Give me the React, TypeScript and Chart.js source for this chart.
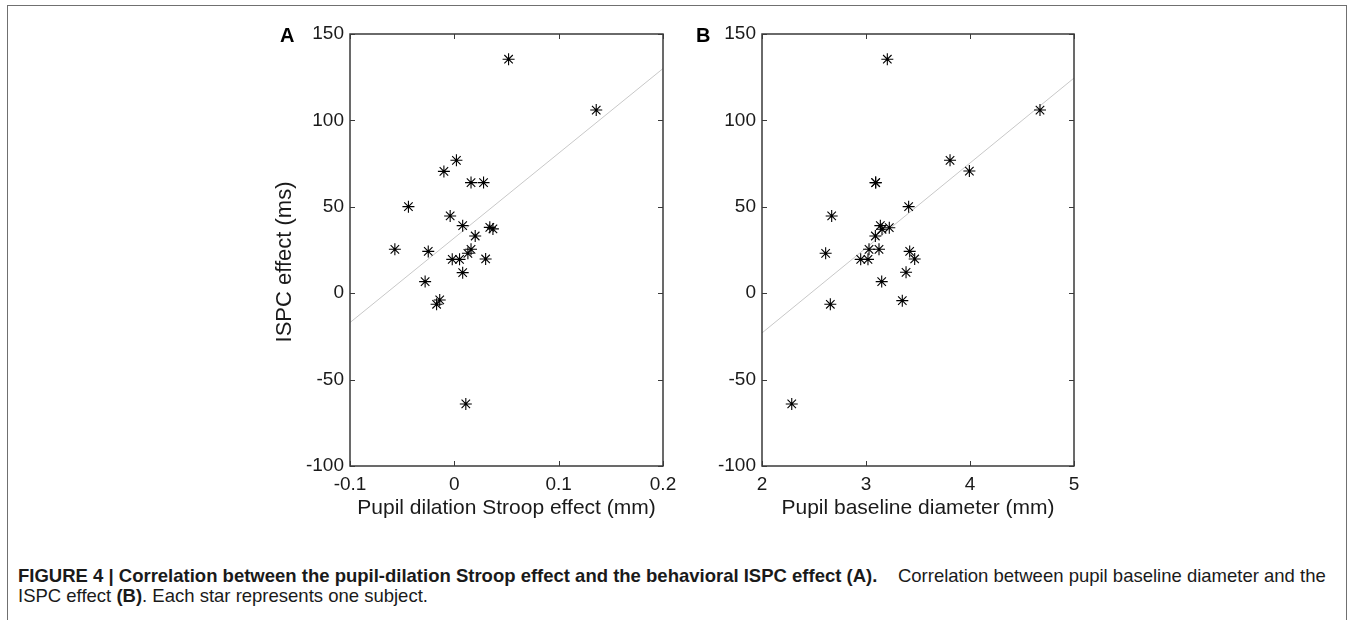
import React, { useEffect, useRef } from "react";
import { Chart, registerables } from "chart.js";

Chart.register(...registerables);

// ---- Data ----
// Panel A: pupil dilation Stroop effect (mm) vs ISPC effect (ms)
const stroopEffect = [0.052, 0.136, 0.002, -0.010, 0.016, 0.028, -0.044, -0.004, 0.008, 0.034, 0.037, 0.020, -0.057, -0.025, 0.016, 0.013, -0.002, 0.005, 0.030, 0.008, -0.028, -0.014, -0.017, 0.011];
const ispcA = [135.4, 106, 76.9, 70.5, 64, 64, 50.1, 44.7, 39.1, 38.1, 37.2, 33.1, 25.4, 24.2, 25.4, 23.1, 19.6, 19.6, 19.8, 11.9, 6.7, -3.9, -6.4, -64.1];
const fitAx = [-0.1, 0.2];
const fitAy = [-17, 130];

// Panel B: pupil baseline diameter (mm) vs ISPC effect (ms)
const baselineDiameter = [3.205, 4.673, 3.808, 3.994, 3.093, 3.093, 3.41, 2.67, 3.138, 3.224, 3.154, 3.09, 2.612, 3.029, 3.125, 3.42, 2.949, 3.019, 3.468, 3.385, 3.151, 3.349, 2.657, 2.286];
const ispcB = [135.4, 106, 76.9, 70.7, 64, 64, 50.1, 44.7, 39.1, 37.9, 37, 33.1, 23.1, 25.4, 25.4, 24.2, 19.6, 19.6, 19.8, 12.1, 6.7, -4.3, -6.4, -64.1];
const fitBx = [2, 5];
const fitBy = [-23, 124.5];

// Axis ranges / ticks
const yRange = [-100, 150];
const yStep = 50;
const xRangeA = [-0.1, 0.2];
const xStepA = 0.1;
const xRangeB = [2, 5];
const xStepB = 1;

const xTitleA = "Pupil dilation Stroop effect (mm)";
const xTitleB = "Pupil baseline diameter (mm)";
const yTitle = "ISPC effect (ms)";

const FONT = "'Liberation Sans', Arial, Helvetica, sans-serif";
const AXIS_COLOR = "#3a3a3a";
const TEXT_COLOR = "#1a1a1a";

const toPoints = (xs: number[], ys: number[]) => xs.map((x, i) => ({ x, y: ys[i] }));

const matlabAxesPlugin = {
  id: "matlabAxes",
  afterDraw(chart: any, _args: any, opts: any) {
    const { ctx, chartArea: a, scales } = chart;
    ctx.save();
    ctx.strokeStyle = AXIS_COLOR;
    ctx.lineWidth = 1.5;
    ctx.strokeRect(a.left, a.top, a.right - a.left, a.bottom - a.top);
    const tl = 5;
    ctx.beginPath();
    scales.x.ticks.forEach((t: any) => {
      const px = Math.round(scales.x.getPixelForValue(t.value)) + 0.5;
      ctx.moveTo(px, a.bottom);
      ctx.lineTo(px, a.bottom - tl);
      ctx.moveTo(px, a.top);
      ctx.lineTo(px, a.top + tl);
    });
    scales.y.ticks.forEach((t: any) => {
      const py = Math.round(scales.y.getPixelForValue(t.value)) + 0.5;
      ctx.moveTo(a.left, py);
      ctx.lineTo(a.left + tl, py);
      ctx.moveTo(a.right, py);
      ctx.lineTo(a.right - tl, py);
    });
    ctx.lineWidth = 1;
    ctx.stroke();
    if (opts && opts.yTitle) {
      ctx.fillStyle = TEXT_COLOR;
      ctx.font = `22px ${FONT}`;
      ctx.textAlign = "center";
      ctx.textBaseline = "middle";
      ctx.translate(opts.yTitleX, opts.yTitleY);
      ctx.rotate(-Math.PI / 2);
      ctx.fillText(opts.yTitle, 0, 0);
    }
    ctx.restore();
  },
};

type PanelProps = {
  xs: number[];
  ys: number[];
  fitX: number[];
  fitY: number[];
  xRange: number[];
  xStep: number;
  xTitle: string;
  yAxisWidth: number;
  padRight: number;
  width: number;
  height: number;
  left: number;
  showYTitle: boolean;
};

function Panel(p: PanelProps) {
  const ref = useRef<HTMLCanvasElement | null>(null);
  useEffect(() => {
    if (!ref.current) return;
    const chart = new Chart(ref.current, {
      type: "scatter",
      data: {
        datasets: [
          {
            type: "scatter",
            data: toPoints(p.xs, p.ys),
            pointStyle: "star",
            pointRadius: 6,
            pointBorderWidth: 1.1,
            pointBorderColor: "#000",
            pointBackgroundColor: "#000",
            order: 1,
          } as any,
          {
            type: "line",
            data: toPoints(p.fitX, p.fitY),
            borderColor: "#c8c8c8",
            borderWidth: 1,
            pointRadius: 0,
            fill: false,
            order: 2,
          } as any,
        ],
      },
      options: {
        animation: false,
        responsive: false,
        events: [],
        layout: { padding: { left: 0, right: p.padRight, top: 34, bottom: p.height - 521 } },
        plugins: {
          legend: { display: false },
          tooltip: { enabled: false },
          matlabAxes: p.showYTitle
            ? { yTitle: yTitle, yTitleX: 55, yTitleY: 262 }
            : {},
        } as any,
        scales: {
          x: {
            type: "linear",
            min: p.xRange[0],
            max: p.xRange[1],
            grid: { display: false, drawTicks: false },
            border: { display: false },
            ticks: {
              stepSize: p.xStep,
              padding: 7,
              color: TEXT_COLOR,
              font: { family: FONT, size: 19 },
              maxRotation: 0,
              callback: (v: any) => String(Math.round(Number(v) * 10) / 10),
            },
            title: {
              display: true,
              text: p.xTitle,
              color: TEXT_COLOR,
              font: { family: FONT, size: 21 },
              padding: 0,
            },
            afterFit: (s: any) => {
              s.height = 55;
            },
          },
          y: {
            type: "linear",
            min: yRange[0],
            max: yRange[1],
            grid: { display: false, drawTicks: false },
            border: { display: false },
            ticks: {
              stepSize: yStep,
              padding: 6,
              color: TEXT_COLOR,
              font: { family: FONT, size: 19 },
              callback: (v: any) => String(v),
            },
            afterFit: (s: any) => {
              s.width = p.yAxisWidth;
            },
          },
        },
      } as any,
      plugins: [matlabAxesPlugin],
    });
    return () => chart.destroy();
  }, []);
  return (
    <canvas
      ref={ref}
      width={p.width}
      height={p.height}
      style={{ position: "absolute", left: p.left, top: 0, width: p.width, height: p.height }}
    />
  );
}

export default function App() {
  const panelLabel: React.CSSProperties = {
    position: "absolute",
    fontFamily: FONT,
    fontWeight: "bold",
    fontSize: 20,
    lineHeight: "20px",
    color: "#000",
  };
  return (
    <div style={{ position: "absolute", left: 0, top: 0, width: 1349, height: 620, overflow: "hidden", background: "#fff" }}>
      <div
        style={{
          position: "absolute",
          left: 7,
          top: 5,
          width: 1340,
          height: 660,
          border: "1.5px solid #707070",
          boxSizing: "border-box",
        }}
      />
      <Panel
        xs={stroopEffect}
        ys={ispcA}
        fitX={fitAx}
        fitY={fitAy}
        xRange={xRangeA}
        xStep={xStepA}
        xTitle={xTitleA}
        yAxisWidth={120}
        padRight={27}
        width={460}
        height={560}
        left={230}
        showYTitle={true}
      />
      <Panel
        xs={baselineDiameter}
        ys={ispcB}
        fitX={fitBx}
        fitY={fitBy}
        xRange={xRangeB}
        xStep={xStepB}
        xTitle={xTitleB}
        yAxisWidth={72}
        padRight={36}
        width={420}
        height={560}
        left={690}
        showYTitle={false}
      />
      <div style={{ ...panelLabel, left: 280, top: 25 }}>A</div>
      <div style={{ ...panelLabel, left: 696, top: 25 }}>B</div>
      <div
        style={{
          position: "absolute",
          left: 18,
          top: 566,
          width: 1326,
          whiteSpace: "nowrap",
          fontFamily: FONT,
          fontSize: 18.5,
          lineHeight: "20px",
          color: "#1a1a1a",
        }}
      >
        <b>FIGURE 4 | Correlation between the pupil-dilation Stroop effect and the behavioral ISPC effect (A).</b>
        {"\u00a0\u00a0\u00a0 Correlation between pupil baseline diameter and the"}
        <br />
        {"ISPC effect "}
        <b>(B)</b>
        {". Each star represents one subject."}
      </div>
    </div>
  );
}
